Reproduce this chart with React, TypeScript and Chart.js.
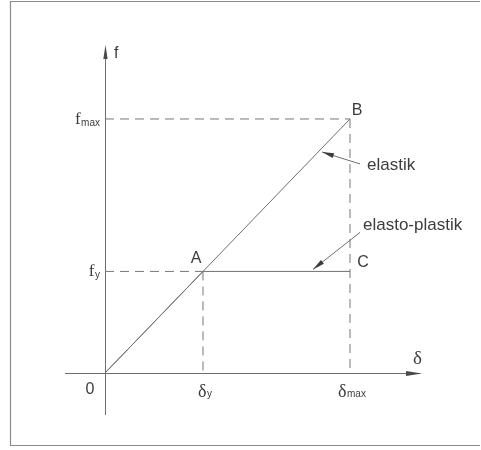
import { useEffect, useRef } from "react";
import Chart from "chart.js/auto";

// Displacement (δ) and force (f) reference levels: origin, yield, maximum
const deltaLevels = [0, 1, 2.5];
const deltaLabels = ["0", "δ|y", "δ|max"];
const forceLevels = [0, 1, 2.5];
const forceLabels = ["", "f|y", "f|max"];

// Elastic response: straight line O → B
const elasticDelta = [0, 2.5];
const elasticForce = [0, 2.5];

// Elasto-plastic response: O → A, then flat plateau A → C
const plasticDelta = [0, 1, 2.5];
const plasticForce = [0, 1, 1];

// Named points on the curves
const pointNames = ["A", "B", "C"];
const pointDelta = [1, 2.5, 2.5];
const pointForce = [1, 2.5, 1];

// Axis extents (data units)
const deltaRange = [-0.408, 3.296];
const forceRange = [-0.413, 3.228];

const LINE = "#6f6f6f";
const INK = "#3c3c3c";
const SANS = "'Liberation Sans', Arial, sans-serif";
const SERIF = "'Liberation Serif', 'Times New Roman', serif";

const toPts = (xs: number[], ys: number[]) => xs.map((x, i) => ({ x, y: ys[i] }));

function arrowHead(
  ctx: CanvasRenderingContext2D,
  tx: number,
  ty: number,
  fx: number,
  fy: number,
  len: number,
  half: number
) {
  const a = Math.atan2(ty - fy, tx - fx);
  const bx = tx - Math.cos(a) * len;
  const by = ty - Math.sin(a) * len;
  ctx.beginPath();
  ctx.moveTo(tx, ty);
  ctx.lineTo(bx + Math.sin(a) * half, by - Math.cos(a) * half);
  ctx.lineTo(bx - Math.sin(a) * half, by + Math.cos(a) * half);
  ctx.closePath();
  ctx.fill();
}

// "base|sub" → main glyph with a small subscript
function subText(
  ctx: CanvasRenderingContext2D,
  label: string,
  x: number,
  y: number,
  align: "left" | "center" | "right",
  family: string,
  size: number,
  subFamily: string,
  subSize: number,
  subDrop: number
) {
  const [base, sub = ""] = label.split("|");
  ctx.font = `${size}px ${family}`;
  const wb = ctx.measureText(base).width;
  ctx.font = `${subSize}px ${subFamily}`;
  const ws = ctx.measureText(sub).width;
  const total = wb + (sub ? ws + 0.5 : 0);
  let x0 = x;
  if (align === "center") x0 = x - total / 2;
  if (align === "right") x0 = x - total;
  ctx.textAlign = "left";
  ctx.textBaseline = "alphabetic";
  ctx.font = `${size}px ${family}`;
  ctx.fillText(base, x0, y);
  if (sub) {
    ctx.font = `${subSize}px ${subFamily}`;
    ctx.fillText(sub, x0 + wb + 0.5, y + subDrop);
  }
}

const diagramPlugin = {
  id: "diagram",
  beforeDatasetsDraw(chart: any) {
    const { ctx, chartArea, scales } = chart;
    const px = (v: number) => scales.x.getPixelForValue(v);
    const py = (v: number) => scales.y.getPixelForValue(v);
    ctx.save();
    // frame
    ctx.strokeStyle = "#8a8a8a";
    ctx.lineWidth = 1.2;
    ctx.beginPath();
    ctx.moveTo(480, 1.5);
    ctx.lineTo(10.5, 1.5);
    ctx.lineTo(10.5, 445.5);
    ctx.lineTo(480, 445.5);
    ctx.stroke();

    // axes
    const ox = Math.round(px(0)) + 0.5;
    const oy = Math.round(py(0)) + 0.5;
    ctx.strokeStyle = LINE;
    ctx.lineWidth = 1;
    ctx.beginPath();
    ctx.moveTo(ox, chartArea.bottom);
    ctx.lineTo(ox, chartArea.top + 4);
    ctx.moveTo(chartArea.left, oy);
    ctx.lineTo(chartArea.right - 8, oy);
    ctx.stroke();
    ctx.fillStyle = "#4a4a4a";
    arrowHead(ctx, ox, chartArea.top, ox, chartArea.top + 20, 14, 2.2);
    arrowHead(ctx, chartArea.right - 6, oy, chartArea.right - 30, oy, 16, 2.4);
    ctx.restore();
  },
  afterDatasetsDraw(chart: any) {
    const { ctx, chartArea, scales } = chart;
    const px = (v: number) => scales.x.getPixelForValue(v);
    const py = (v: number) => scales.y.getPixelForValue(v);
    ctx.save();
    ctx.fillStyle = INK;

    // axis titles
    ctx.font = `16px ${SANS}`;
    ctx.textAlign = "left";
    ctx.textBaseline = "alphabetic";
    ctx.fillText("f", px(0) + 9, chartArea.top + 13);
    ctx.font = `19px ${SERIF}`;
    ctx.fillText("δ", chartArea.right - 15, py(0) - 9);

    // displacement tick labels
    deltaLevels.forEach((v, i) => {
      const lab = deltaLabels[i];
      if (lab === "0") {
        ctx.font = `16px ${SANS}`;
        ctx.textAlign = "center";
        ctx.fillText("0", px(v) - 15, py(0) + 21);
      } else {
        subText(ctx, lab, px(v) + 2, py(0) + 24, "center", SERIF, 18, SANS, 10, 0);
      }
    });

    // force tick labels
    forceLevels.forEach((v, i) => {
      const lab = forceLabels[i];
      if (!lab) return;
      subText(ctx, lab, px(0) - 5, py(v) + 5, "right", SERIF, 17, SANS, 10, 2);
    });

    // point names
    ctx.font = `16px ${SANS}`;
    ctx.textAlign = "center";
    ctx.textBaseline = "middle";
    const offsets: Record<string, [number, number]> = {
      A: [-7, -13],
      B: [7, -8],
      C: [13, -9],
    };
    pointNames.forEach((n, i) => {
      const [dx, dy] = offsets[n];
      ctx.fillText(n, px(pointDelta[i]) + dx, py(pointForce[i]) + dy);
    });

    // curve annotations with leader arrows
    ctx.font = `17px ${SANS}`;
    ctx.textAlign = "left";
    ctx.fillText("elastik", px(2.5) + 17, py(2.5) + 46);
    ctx.fillText("elasto-plastik", px(2.5) + 13, py(1) - 46);

    ctx.strokeStyle = LINE;
    ctx.fillStyle = "#3a3a3a";
    ctx.lineWidth = 1;
    const e = { tx: px(2.5) - 28, ty: py(2.5) + 33, fx: px(2.5) + 10, fy: py(2.5) + 45 };
    ctx.beginPath();
    ctx.moveTo(e.fx, e.fy);
    ctx.lineTo(e.tx, e.ty);
    ctx.stroke();
    arrowHead(ctx, e.tx, e.ty, e.fx, e.fy, 12, 2.4);

    const p = { tx: px(2.5) - 37, ty: py(1) - 2, fx: px(2.5) + 10, fy: py(1) - 39 };
    ctx.beginPath();
    ctx.moveTo(p.fx, p.fy);
    ctx.lineTo(p.tx, p.ty);
    ctx.stroke();
    arrowHead(ctx, p.tx, p.ty, p.fx, p.fy, 12, 2.4);

    ctx.restore();
  },
};

function guide(xs: number[], ys: number[]) {
  return {
    data: toPts(xs, ys),
    showLine: true,
    borderColor: "#767676",
    borderWidth: 1,
    borderDash: [9, 6],
    pointRadius: 0,
  };
}

export default function App() {
  const ref = useRef<HTMLCanvasElement>(null);

  useEffect(() => {
    if (!ref.current) return;
    const [, dY, dMax] = deltaLevels;
    const [, fY, fMax] = forceLevels;
    const chart = new Chart(ref.current, {
      type: "scatter",
      data: {
        datasets: [
          guide([deltaLevels[0], dMax], [fMax, fMax]),
          guide([dMax, dMax], [fMax, forceLevels[0]]),
          guide([deltaLevels[0], dY], [fY, fY]),
          guide([dY, dY], [fY, forceLevels[0]]),
          {
            data: toPts(elasticDelta, elasticForce),
            showLine: true,
            borderColor: LINE,
            borderWidth: 1,
            pointRadius: 0,
          },
          {
            data: toPts(plasticDelta, plasticForce),
            showLine: true,
            borderColor: LINE,
            borderWidth: 1,
            pointRadius: 0,
          },
        ],
      } as any,
      options: {
        responsive: false,
        animation: false,
        events: [],
        layout: { padding: { left: 65, right: 53, top: 45, bottom: 35 } },
        plugins: { legend: { display: false }, tooltip: { enabled: false } },
        scales: {
          x: { type: "linear", display: false, min: deltaRange[0], max: deltaRange[1] },
          y: { type: "linear", display: false, min: forceRange[0], max: forceRange[1] },
        },
      },
      plugins: [diagramPlugin],
    });
    return () => chart.destroy();
  }, []);

  return (
    <div style={{ position: "absolute", left: 0, top: 0, width: 481, height: 450, background: "#fff" }}>
      <canvas ref={ref} width={481} height={450} style={{ display: "block" }} />
    </div>
  );
}
